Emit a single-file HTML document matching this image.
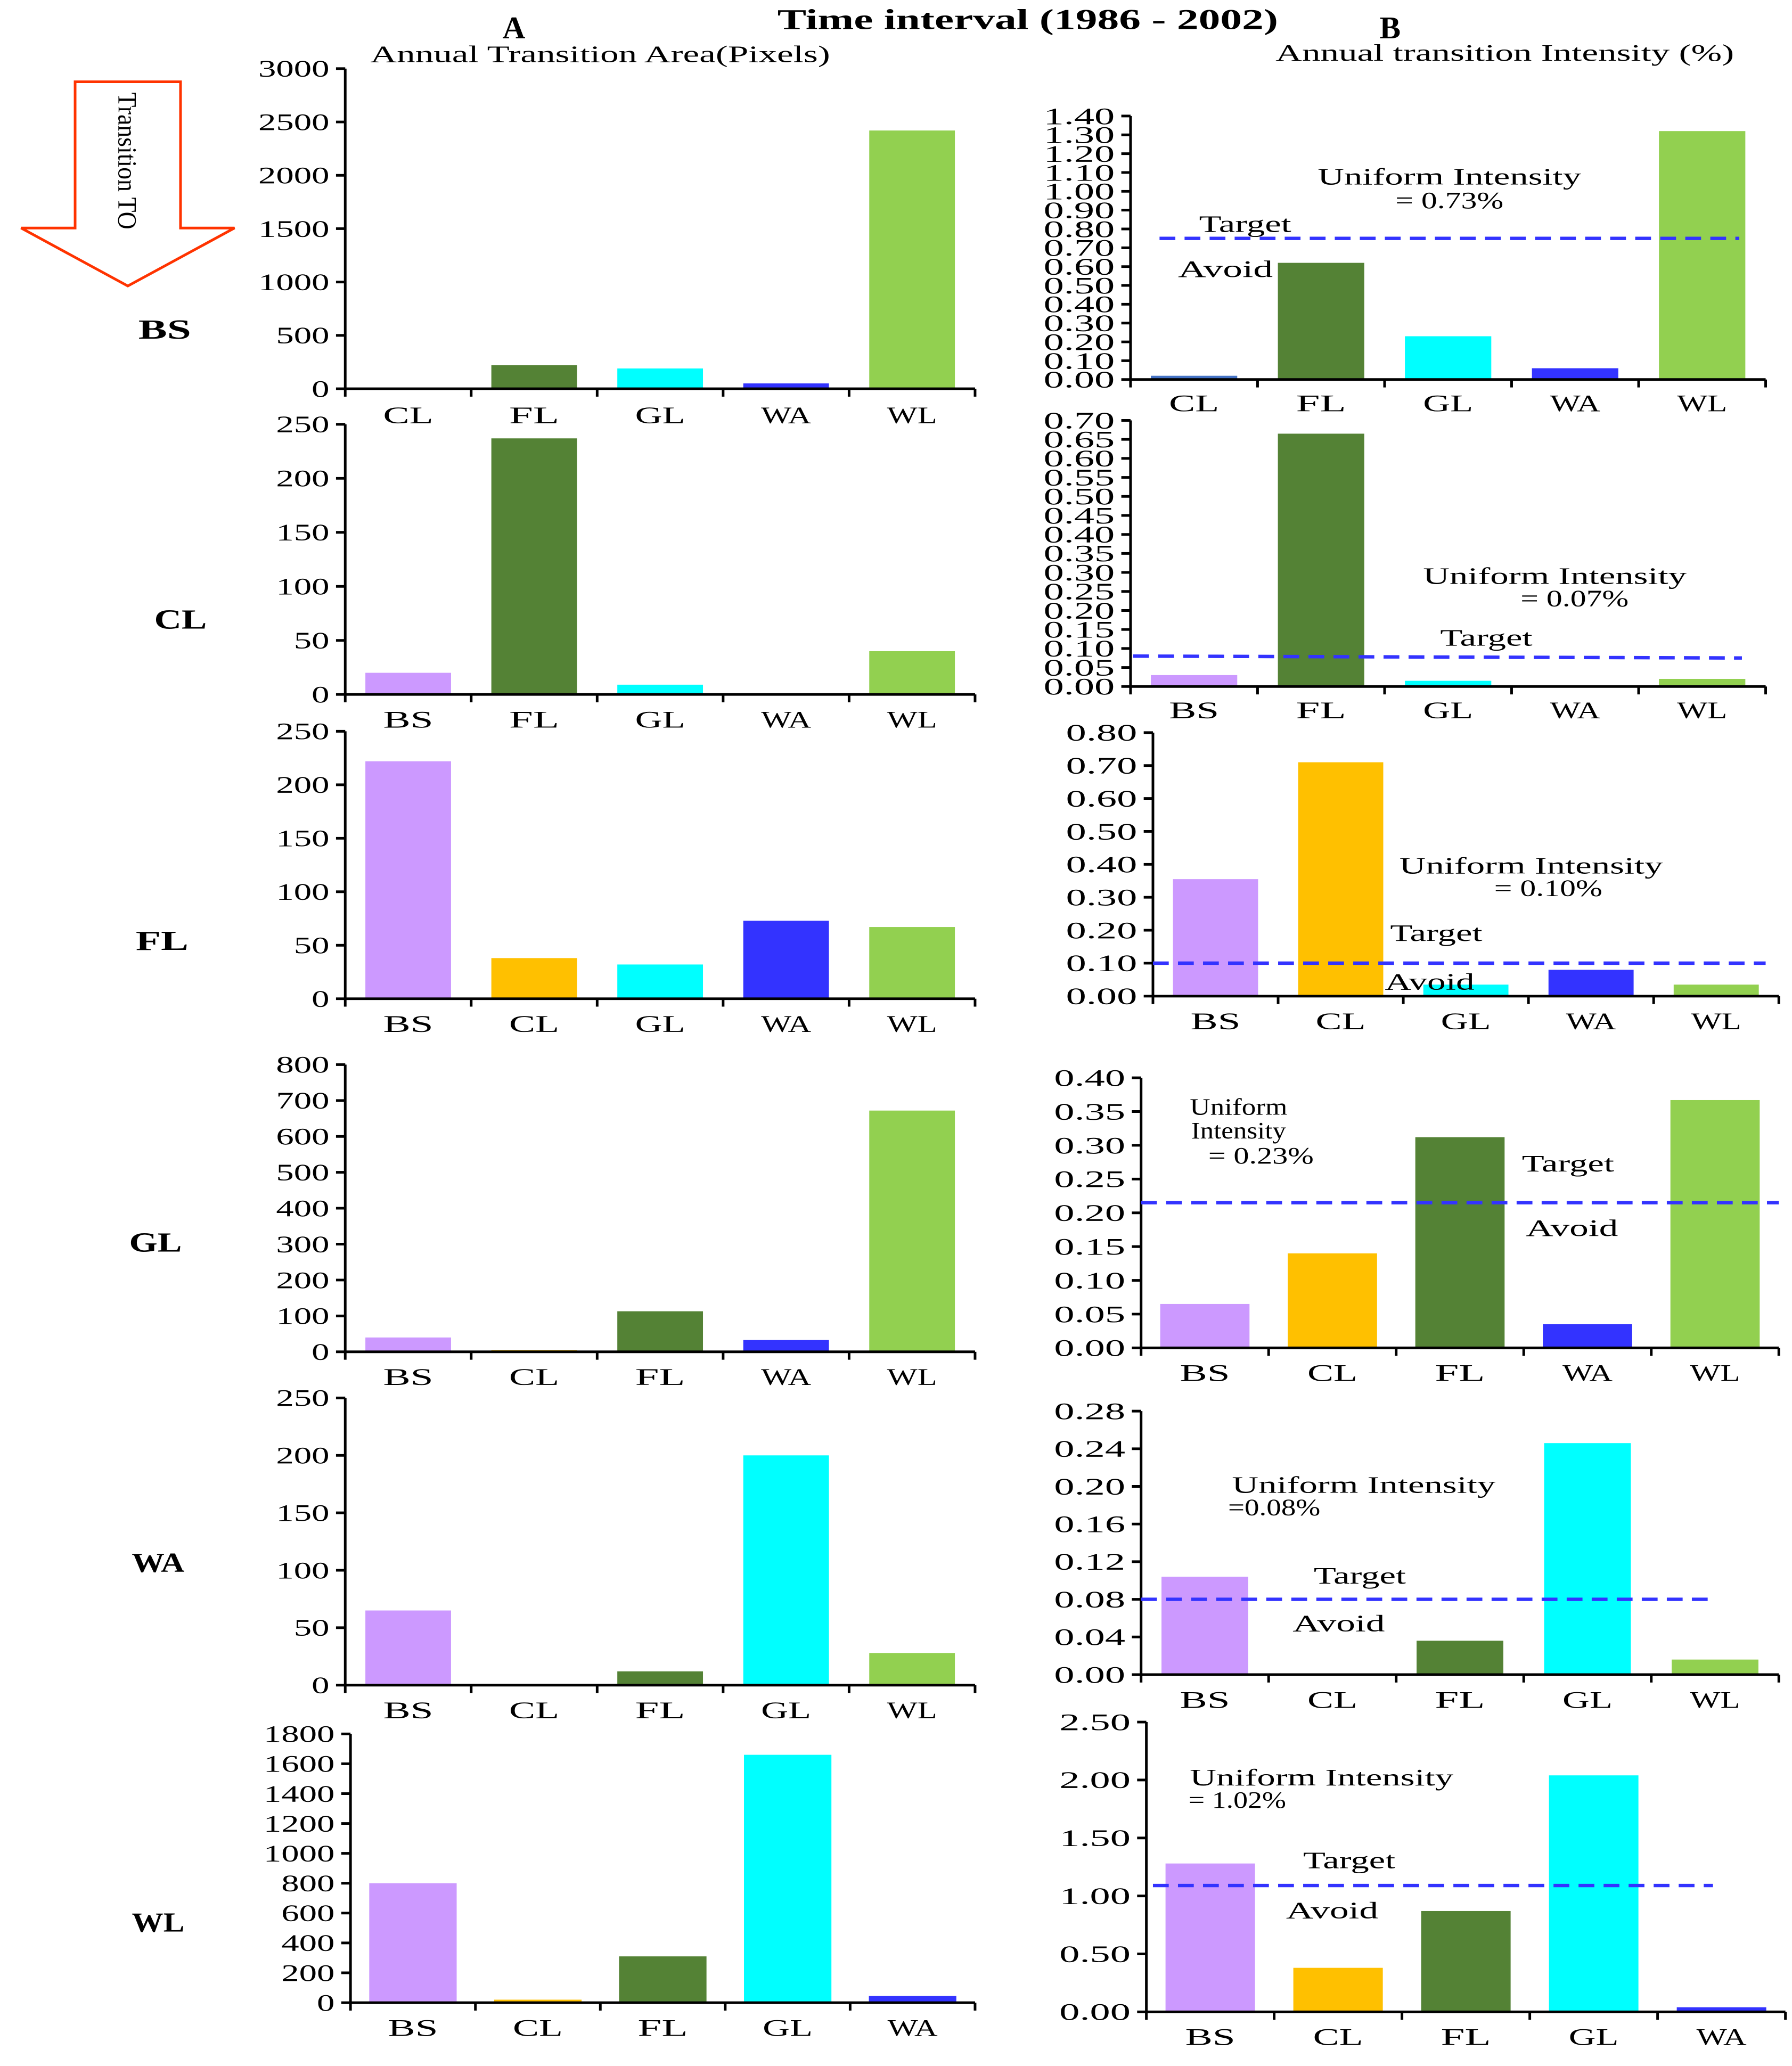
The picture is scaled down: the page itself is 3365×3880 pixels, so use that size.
<!DOCTYPE html>
<html><head><meta charset="utf-8">
<style>
html,body{margin:0;padding:0;background:#fff;}
svg{display:block;}
text{font-family:"Liberation Serif",serif;fill:#000;}
</style></head>
<body>
<svg id="fig" xmlns="http://www.w3.org/2000/svg" width="3365" height="3880" viewBox="0 0 1360 1568">
<rect x="0" y="0" width="1360" height="1568" fill="#fff"/>
<text x="780" y="22" text-anchor="middle" font-size="22" font-weight="bold" textLength="380" lengthAdjust="spacingAndGlyphs">Time interval (1986 - 2002)</text>
<text x="390" y="29" text-anchor="middle" font-size="24" font-weight="bold">A</text>
<text x="1055" y="29" text-anchor="middle" font-size="24" font-weight="bold">B</text>
<text x="281" y="47" font-size="18" textLength="349" lengthAdjust="spacingAndGlyphs">Annual Transition  Area(Pixels)</text>
<text x="968" y="46" font-size="18" textLength="348" lengthAdjust="spacingAndGlyphs">Annual transition  Intensity (%)</text>
<g>
<polygon points="57,62 137,62 137,173 178,173 97,217 16,173 57,173" fill="#fff" stroke="#ff3300" stroke-width="2"/>
<text x="0" y="0" font-size="20" transform="translate(90,70) rotate(90)" textLength="104" lengthAdjust="spacingAndGlyphs">Transition TO</text>
</g>
<g id="charts"></g>
</svg>
<script>
// Colors per category
const colorMap = {BS:"#CC99FF", CL:"#FFC000", FL:"#548235", GL:"#00FFFF", WA:"#3333FF", WL:"#92D050"};
// ---- data ----
const catsBS = ["CL","FL","GL","WA","WL"];
const areaBS = [0, 220, 190, 50, 2420];
const intenBS = [0.02, 0.62, 0.23, 0.06, 1.32];
const catsCL = ["BS","FL","GL","WA","WL"];
const areaCL = [20, 237, 9, 0, 40];
const intenCL = [0.03, 0.665, 0.015, 0, 0.02];
const catsFL = ["BS","CL","GL","WA","WL"];
const areaFL = [222, 38, 32, 73, 67];
const intenFL = [0.355, 0.71, 0.035, 0.08, 0.035];
const catsGL = ["BS","CL","FL","WA","WL"];
const areaGL = [40, 5, 113, 33, 672];
const intenGL = [0.065, 0.14, 0.312, 0.035, 0.367];
const catsWA = ["BS","CL","FL","GL","WL"];
const areaWA = [65, 0, 12, 200, 28];
const intenWA = [0.104, 0, 0.036, 0.246, 0.016];
const catsWL = ["BS","CL","FL","GL","WA"];
const areaWL = [800, 20, 310, 1660, 45];
const intenWL = [1.28, 0.38, 0.87, 2.04, 0.04];
// Tick labels
const areaTicksBS = ["0","500","1000","1500","2000","2500","3000"];
const areaTicksCL = ["0","50","100","150","200","250"];
const areaTicksFL = ["0","50","100","150","200","250"];
const areaTicksGL = ["0","100","200","300","400","500","600","700","800"];
const areaTicksWA = ["0","50","100","150","200","250"];
const areaTicksWL = ["0","200","400","600","800","1000","1200","1400","1600","1800"];
const intenTicksBS = ["0.00","0.10","0.20","0.30","0.40","0.50","0.60","0.70","0.80","0.90","1.00","1.10","1.20","1.30","1.40"];
const intenTicksCL = ["0.00","0.05","0.10","0.15","0.20","0.25","0.30","0.35","0.40","0.45","0.50","0.55","0.60","0.65","0.70"];
const intenTicksFL = ["0.00","0.10","0.20","0.30","0.40","0.50","0.60","0.70","0.80"];
const intenTicksGL = ["0.00","0.05","0.10","0.15","0.20","0.25","0.30","0.35","0.40"];
const intenTicksWA = ["0.00","0.04","0.08","0.12","0.16","0.20","0.24","0.28"];
const intenTicksWL = ["0.00","0.50","1.00","1.50","2.00","2.50"];
// Uniform intensity target lines
const targetBS = 0.75, targetCL = 0.08, targetFL = 0.10, targetGL = 0.215, targetWA = 0.08, targetWL = 1.09;

const NS = "http://www.w3.org/2000/svg";
const root = document.getElementById("charts");
function mk(tag, attrs, parent){
  const e = document.createElementNS(NS, tag);
  for (const k in attrs) e.setAttribute(k, attrs[k]);
  (parent||root).appendChild(e);
  return e;
}
function txt(x,y,s,size,anchor,len,parent){
  const t = mk("text",{x:x,y:y,"font-size":size,"text-anchor":anchor||"start"},parent);
  if (len){ t.setAttribute("textLength",len); t.setAttribute("lengthAdjust","spacingAndGlyphs"); }
  t.textContent = s;
  return t;
}

function drawChart(name, x0, x1, yBottom, yTop, cats, vals, ticks, labelY, barFrac, target, tgtX0, tgtX1, tgtY1val){
  const g = mk("g",{});
  
  
  const maxV = parseFloat(ticks[ticks.length-1]);
  const yS = v => yBottom - (v/maxV)*(yBottom - yTop);
  const cw = (x1 - x0)/cats.length;
  const xC = i => x0 + cw*(i+0.5);
  cats.forEach((c,i)=>{
    const h = yBottom - yS(vals[i]);
    const r = mk("rect",{x:xC(i)-cw*barFrac/2, y:yS(vals[i]), width:cw*barFrac, height:Math.max(h,0), fill:(name.indexOf('intensity-BS')>=0 && c==="CL") ? "#4472C4" : colorMap[c]}, g);
    
    
    const t = txt(xC(i), labelY, c, 18, "middle", c.length*19, g);
    
    
  });
  const ya = mk("line",{x1:x0,y1:yTop,x2:x0,y2:yBottom,stroke:"#000","stroke-width":2},g);
  
  
  const xa = mk("line",{x1:x0,y1:yBottom,x2:x1,y2:yBottom,stroke:"#000","stroke-width":2},g);
  
  
  for (let i=0;i<=cats.length;i++){
    mk("line",{x1:x0+cw*i,y1:yBottom,x2:x0+cw*i,y2:yBottom+6,stroke:"#000","stroke-width":2},g);
  }
  ticks.forEach(tk=>{
    const y = yS(parseFloat(tk));
    mk("line",{x1:x0-7,y1:y,x2:x0,y2:y,stroke:"#000","stroke-width":2},g);
    const t = txt(x0-12, y+6, tk, 18, "end", tk.length*13.5, g);
    
    
  });
  if (target !== null){
    const l = mk("line",{x1:tgtX0,y1:yS(target),x2:tgtX1,y2:yS(tgtY1val!==null&&tgtY1val!==undefined?tgtY1val:target),stroke:"#3333FF","stroke-width":2.6,"stroke-dasharray":"12,7"},g);
    
    
  }
  return g;
}

drawChart("area-chart-BS", 262, 740, 295, 52, catsBS, areaBS, areaTicksBS, 321, 0.68, null);
drawChart("area-chart-CL", 262, 740, 527, 322, catsCL, areaCL, areaTicksCL, 552, 0.68, null);
drawChart("area-chart-FL", 262, 740, 758, 555, catsFL, areaFL, areaTicksFL, 783, 0.68, null);
drawChart("area-chart-GL", 262, 740, 1026, 808, catsGL, areaGL, areaTicksGL, 1051, 0.68, null);
drawChart("area-chart-WA", 262, 740, 1279, 1061, catsWA, areaWA, areaTicksWA, 1304, 0.68, null);
drawChart("area-chart-WL", 266, 740, 1520, 1316, catsWL, areaWL, areaTicksWL, 1545, 0.70, null);
drawChart("intensity-BS", 858, 1340, 288, 88, catsBS, intenBS, intenTicksBS, 312, 0.68, targetBS, 880, 1320, null);
drawChart("intensity-CL", 858, 1340, 521, 319, catsCL, intenCL, intenTicksCL, 545, 0.68, targetCL, 860, 1322, 0.075);
drawChart("intensity-FL", 875, 1350, 756, 556, catsFL, intenFL, intenTicksFL, 781, 0.68, targetFL, 875, 1340, null);
drawChart("intensity-GL", 866, 1350, 1023, 818, catsGL, intenGL, intenTicksGL, 1048, 0.70, targetGL, 866, 1350, null);
drawChart("intensity-WA", 866, 1350, 1271, 1071, catsWA, intenWA, intenTicksWA, 1296, 0.68, targetWA, 866, 1300, null);
drawChart("intensity-WL", 870, 1355, 1527, 1307, catsWL, intenWL, intenTicksWL, 1552, 0.70, targetWL, 875, 1300, null);

[["BS",125,257],["CL",137,477],["FL",123,721],["GL",118,950],["WA",120,1193],["WL",120,1466]].forEach(r=>{
  const t = txt(r[1], r[2], r[0], 21, "middle", 40);
  t.setAttribute("font-weight","bold");
  
  
});

const notes = [
  ["Uniform Intensity",1100,140,"middle",200],["= 0.73%",1100,158,"middle",82],["Target",945,176,"middle",70],["Avoid",930,210,"middle",72],
  ["Uniform Intensity",1180,443,"middle",200],["= 0.07%",1195,460,"middle",82],["Target",1128,490,"middle",70],
  ["Uniform Intensity",1162,663,"middle",200],["= 0.10%",1175,680,"middle",82],["Target",1090,714,"middle",70],["Avoid",1085,751,"middle",68],
  ["Uniform",940,846,"middle",74],["Intensity",940,864,"middle",72],["= 0.23%",957,883,"middle",80],["Target",1190,889,"middle",70],["Avoid",1193,938,"middle",70],
  ["Uniform Intensity",1035,1133,"middle",200],["=0.08%",967,1150,"middle",70],["Target",1032,1202,"middle",70],["Avoid",1016,1238,"middle",70],
  ["Uniform Intensity",1003,1355,"middle",200],["= 1.02%",939,1372,"middle",74],["Target",1024,1418,"middle",70],["Avoid",1011,1456,"middle",70]
];
notes.forEach(n=>{
  const t = txt(n[1], n[2], n[0], 18, n[3], n[4]);
  
  
});
</script>
</body></html>
